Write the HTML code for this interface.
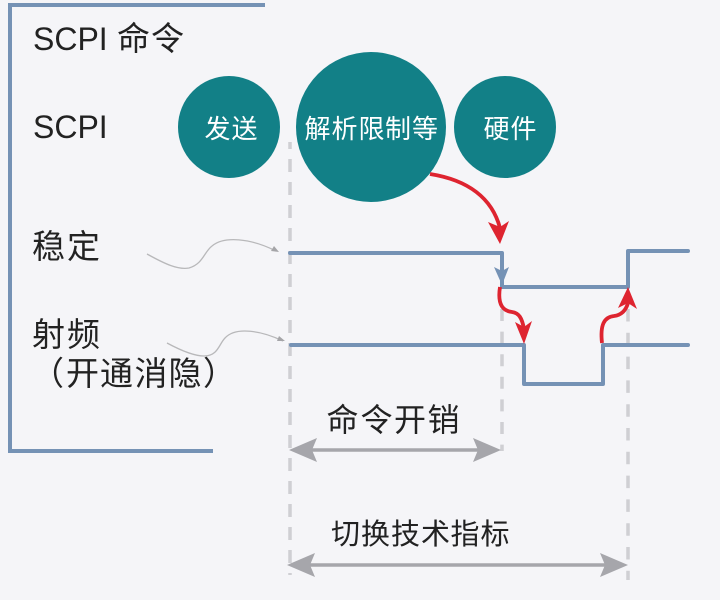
<!DOCTYPE html>
<html><head><meta charset="utf-8"><style>
html,body{margin:0;padding:0;background:#f5f5f8}
svg{display:block;filter:blur(0.35px)}
text{font-family:"Liberation Sans","Noto Sans CJK SC",sans-serif;fill:#222}
</style></head><body>
<svg width="720" height="600" viewBox="0 0 720 600" xmlns="http://www.w3.org/2000/svg">
<rect width="720" height="600" fill="#f5f5f8"/>
<path d="M265 5H10V451H213" fill="none" stroke="#7592b5" stroke-width="4"/>
<g fill="#128087">
<circle cx="229" cy="127" r="51"/>
<circle cx="371" cy="127" r="75"/>
<circle cx="505" cy="127" r="51"/>
</g>
<g fill="none" stroke="#cfcfd3" stroke-width="3.5">
<path d="M290 142V575" stroke-dasharray="13 10" stroke-dashoffset="6"/>
<path d="M502 309V451" stroke-dasharray="12 10.6"/>
<path d="M628 309V580" stroke-dasharray="12.5 11.3"/>
</g>
<g fill="none" stroke="#7592b5" stroke-width="4" stroke-linejoin="round" stroke-linecap="round">
<path d="M290 253H502V287H628V251H688"/>
<path d="M291 345H524V384H603V345H688"/>
</g>
<polygon points="502,285 494,267 502,271 509,267" fill="#7592b5"/>
<g fill="none" stroke="#b8b8ba" stroke-width="1.3">
<path d="M147 254C165 264 178 270 189 268C203 264 204 252 212 246C224 236 250 238 276 251"/>
<path d="M167 343C180 350 194 356 204 356C218 356 219 344 225 338C236 326 262 331 283 341"/>
</g>
<polygon points="279,252 271,251 274,246" fill="#a5a5a8"/>
<polygon points="285,341 277,341 279,336" fill="#a5a5a8"/>
<g fill="none" stroke="#de2430" stroke-width="3.8">
<path d="M430 174C468 180 492 198 500 228"/>
<path d="M500 287C497 306 504 311 512 312C519 313 522 318 524 329"/>
<path d="M602 343C600 325 604 317 614 316C622 315 626 310 628 303"/>
</g>
<g fill="#de2430">
<polygon points="500,244 488,222 500,227 509,221"/>
<polygon points="524,344 515,322 524,327 532,321"/>
<polygon points="628,287 618,308 628,303 637,309"/>
</g>
<g fill="none" stroke="#a6a6ab" stroke-width="3.5">
<path d="M310 450H480"/>
<path d="M310 565H605"/>
</g>
<g fill="#a6a6ab">
<polygon points="289,450 317,438 312,450 317,462"/>
<polygon points="501,450 473,438 478,450 473,462"/>
<polygon points="287,565 315,553 310,565 315,577"/>
<polygon points="628,565 600,553 605,565 600,577"/>
</g>
<g font-size="32">
<text x="33" y="50">SCPI</text>
<text x="33" y="138">SCPI</text>
</g>
<g font-size="33">
<text x="117 151" y="50">命令</text>
<text x="32 67" y="258">稳定</text>
<text x="32 67" y="346">射频</text>
<text x="31 66 100 134.5 168.5 203" y="385">（开通消隐）</text>
</g>
<text x="326.5 360.5 394 427.5" y="431" font-size="32">命令开销</text>
<text x="331 361 391 421 450.5 480.5" y="544" font-size="29">切换技术指标</text>
<g font-size="26">
<text x="204.5 231.5" y="138" style="fill:#fff">发送</text>
<text x="304.5 331.5 358.5 385 412" y="138" style="fill:#fff">解析限制等</text>
<text x="483.5 510.5" y="138" style="fill:#fff">硬件</text>
</g>
</svg>
</body></html>
